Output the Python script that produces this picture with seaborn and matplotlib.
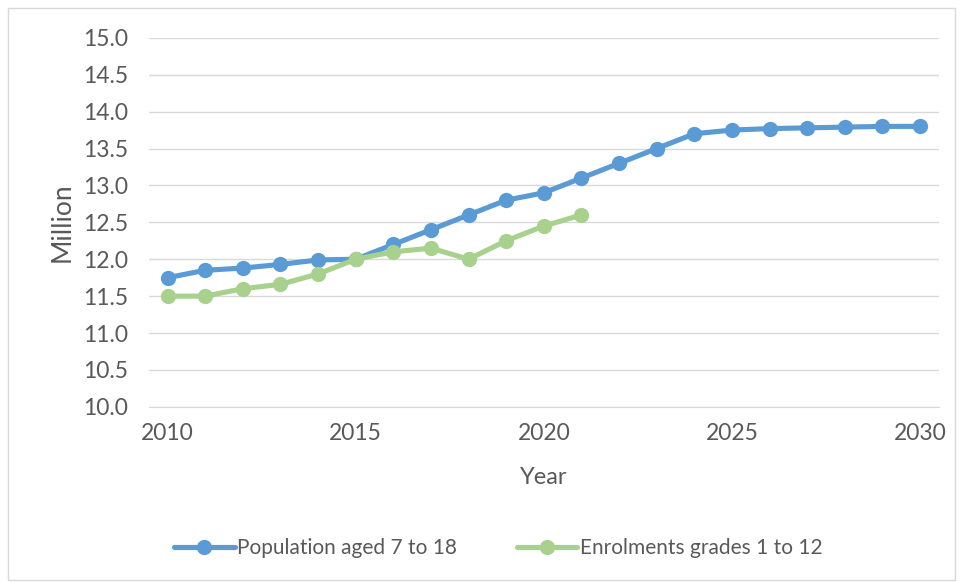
import numpy as np
import pandas as pd
import matplotlib.pyplot as plt
import seaborn as sns
from matplotlib.patches import Rectangle

# ----------------------------------------------------------
# Data
# ----------------------------------------------------------
years_pop = list(range(2010, 2031))
population = [11.75, 11.85, 11.88, 11.93, 11.99, 12.0, 12.2, 12.4, 12.6, 12.8, 12.9,
              13.1, 13.3, 13.5, 13.7, 13.75, 13.77, 13.78, 13.79, 13.8, 13.8]

years_enr = list(range(2010, 2022))
enrolments = [11.5, 11.5, 11.6, 11.66, 11.8, 12.0, 12.1, 12.15, 12.0, 12.25, 12.45, 12.6]

series_names = ["Population aged 7 to 18", "Enrolments grades 1 to 12"]
colors = ["#5B9BD5", "#A9D18E"]

df = pd.concat([
    pd.DataFrame({"Year": years_pop, "Million": population, "Series": series_names[0]}),
    pd.DataFrame({"Year": years_enr, "Million": enrolments, "Series": series_names[1]}),
])

# ----------------------------------------------------------
# Plot
# ----------------------------------------------------------
sns.set_style("white")
plt.rcParams["font.family"] = ["Lato", "DejaVu Sans"]
text_col = "#595959"
grid_col = "#D9D9D9"

fig = plt.figure(figsize=(9.6, 5.82), dpi=100)
ax = fig.add_axes([0.155, 0.301, 0.823, 0.634])

sns.lineplot(data=df, x="Year", y="Million", hue="Series", palette=colors,
             marker="o", markersize=11, markeredgewidth=0, linewidth=3.7,
             ax=ax, legend=False)

ax.set_ylim(10, 15)
ax.set_yticks(np.arange(10, 15.01, 0.5))
ax.yaxis.set_major_formatter(plt.FuncFormatter(lambda v, p: f"{v:.1f}"))
ax.set_xlim(2009.5, 2030.5)
ax.set_xticks([2010, 2015, 2020, 2025, 2030])
ax.set_xticks(np.arange(2009.5, 2031, 1), minor=True)
ax.tick_params(axis="x", which="major", length=0, pad=12, labelsize=16.5, labelcolor=text_col)
ax.tick_params(axis="x", which="minor", length=6, color=grid_col, width=1)
ax.tick_params(axis="y", length=0, pad=15, labelsize=16.5, labelcolor=text_col)

ax.grid(axis="y", color=grid_col, linewidth=1)
ax.set_axisbelow(True)
for side in ["top", "right", "left"]:
    ax.spines[side].set_visible(False)
ax.spines["bottom"].set_color(grid_col)
ax.spines["bottom"].set_zorder(0)

ax.set_xlabel("Year", fontsize=17, color=text_col, labelpad=16)
ax.set_ylabel("Million", fontsize=19, color=text_col, labelpad=6)

handles = [plt.Line2D([], [], color=c, linewidth=3.7, marker="o", markersize=11,
                      markeredgewidth=0) for c in colors]
fig.legend(handles, series_names, loc="center", bbox_to_anchor=(0.519, 0.058),
           ncol=2, frameon=False, fontsize=15, labelcolor=text_col,
           handlelength=2.9, columnspacing=2.9, handletextpad=0.1)

# light chart-area border
fig.patches.append(Rectangle((0.008, 0.003), 0.987, 0.983, transform=fig.transFigure,
                             fill=False, edgecolor=grid_col, linewidth=1))

plt.savefig("out.png", dpi=100)
